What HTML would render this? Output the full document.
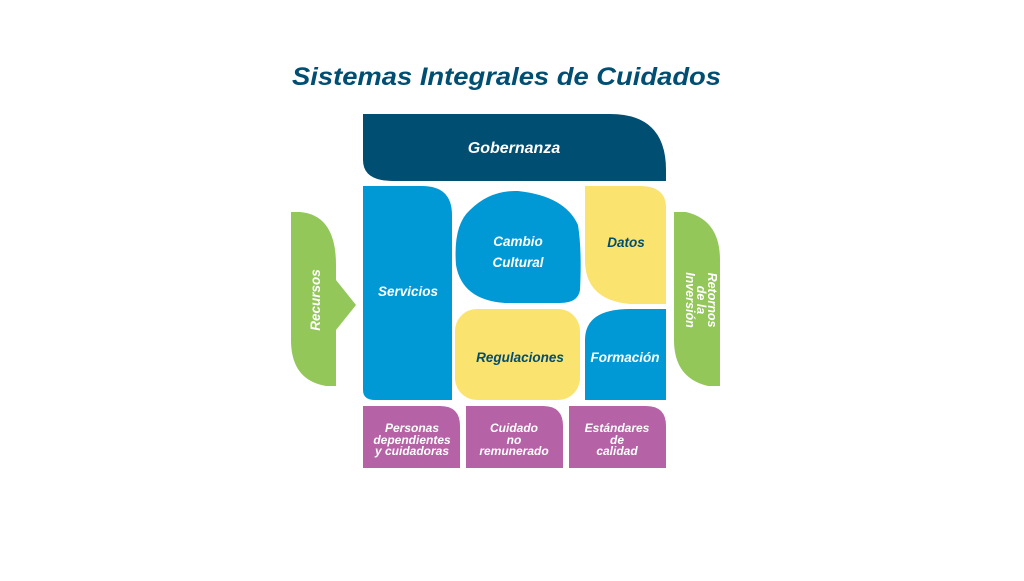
<!DOCTYPE html>
<html><head><meta charset="utf-8"><style>
html,body{margin:0;padding:0;background:#fff;}
</style></head><body>
<svg width="1024" height="576" viewBox="0 0 1024 576" xmlns="http://www.w3.org/2000/svg" font-family="Liberation Sans, sans-serif" font-weight="bold" font-style="italic">
<rect width="1024" height="576" fill="#fff"/>
<text x="292" y="85" font-size="25" fill="#004e72" textLength="429" lengthAdjust="spacingAndGlyphs">Sistemas Integrales de Cuidados</text>
<path d="M363,114 H610 Q666,114 666,170 V181 H393 Q363,181 363,160 Z" fill="#004e72"/>
<text x="514" y="153" font-size="16" fill="#fff" text-anchor="middle">Gobernanza</text>
<path d="M363,186 H422 Q452,186 452,215 V400 H375 Q363,400 363,390 Z" fill="#0099d6"/>
<text x="408" y="296" font-size="13.5" fill="#fff" text-anchor="middle">Servicios</text>
<path d="M518,191 Q565,196 578,225 Q582,250 580,290 Q578,303 560,303 H505 Q462,300 456,265 Q453,225 470,210 Q490,190 518,191 Z" fill="#0099d6"/>
<text x="518" y="246" font-size="13.5" fill="#fff" text-anchor="middle">Cambio</text>
<text x="518" y="267" font-size="13.5" fill="#fff" text-anchor="middle">Cultural</text>
<path d="M585,186 H640 Q666,186 666,208 V304 H630 Q585,300 585,260 Z" fill="#fae36f"/>
<text x="626" y="247" font-size="13.5" fill="#004e72" text-anchor="middle">Datos</text>
<rect x="455" y="309" width="125" height="91" rx="22" fill="#fae36f"/>
<text x="520" y="362" font-size="13.5" fill="#004e72" text-anchor="middle">Regulaciones</text>
<path d="M585,340 Q585,309 630,309 H666 V400 H585 Z" fill="#0099d6"/>
<text x="625" y="362" font-size="13.5" fill="#fff" text-anchor="middle">Formación</text>
<path d="M291,212 H300 Q336,215 336,265 V280 L356,305 L336,330 V386 H326 Q291,380 291,340 Z" fill="#93c75a"/>
<text transform="translate(320,300) rotate(-90)" font-size="13.5" fill="#fff" text-anchor="middle">Recursos</text>
<path d="M674,212 H686 Q720,220 720,260 V386 H708 Q674,378 674,340 Z" fill="#93c75a"/>
<g transform="rotate(90,697,300)" fill="#fff" font-size="12.5" text-anchor="middle">
<text x="697" y="289">Retornos</text>
<text x="697" y="300">de la</text>
<text x="697" y="311">Inversión</text>
</g>
<path d="M363,406 H440 Q460,406 460,426 V468 H363 Z" fill="#b562a6"/>
<path d="M466,406 H543 Q563,406 563,426 V468 H466 Z" fill="#b562a6"/>
<path d="M569,406 H646 Q666,406 666,426 V468 H569 Z" fill="#b562a6"/>
<g fill="#fff" font-size="12" text-anchor="middle">
<text x="412" y="432">Personas</text>
<text x="412" y="444">dependientes</text>
<text x="412" y="455">y cuidadoras</text>
<text x="514" y="432">Cuidado</text>
<text x="514" y="444">no</text>
<text x="514" y="455">remunerado</text>
<text x="617" y="432">Estándares</text>
<text x="617" y="444">de</text>
<text x="617" y="455">calidad</text>
</g>
</svg>
</body></html>
